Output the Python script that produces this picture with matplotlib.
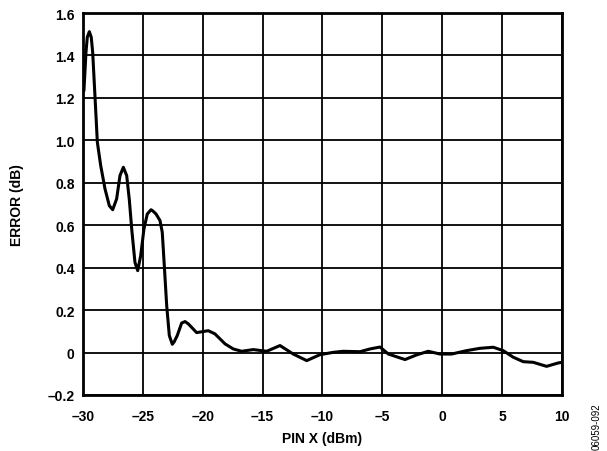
import matplotlib.pyplot as plt

plt.rcParams['font.family'] = ['Liberation Sans', 'DejaVu Sans']
plt.rcParams['font.weight'] = 'bold'

# error curve (PIN X in dBm, error in dB)
pin_x = [-29.92, -29.75, -29.64, -29.47, -29.31, -29.19, -29.0, -28.8, -28.52,
         -28.16, -27.8, -27.52, -27.19, -26.91, -26.63, -26.35, -26.13, -25.93,
         -25.66, -25.43, -25.18, -24.91, -24.63, -24.32, -24.16, -23.9, -23.57,
         -23.38, -23.21, -23.01, -22.79, -22.54, -22.38, -22.13, -21.76, -21.48,
         -21.2, -20.51, -19.54, -18.98, -18.14, -17.45, -16.75, -15.78, -14.66,
         -13.55, -12.44, -11.32, -10.21, -9.1, -8.27, -6.87, -6.03, -5.2, -4.5,
         -3.11, -2.14, -1.17, -0.19, 0.78, 2.03, 3.15, 4.26, 5.09, 5.93,
         6.76, 7.6, 8.71, 9.68, 10.0]
error_db = [1.234, 1.415, 1.486, 1.512, 1.486, 1.415, 1.21, 0.991, 0.881,
            0.771, 0.692, 0.673, 0.724, 0.834, 0.873, 0.834, 0.72, 0.582,
            0.425, 0.386, 0.457, 0.582, 0.653, 0.673, 0.667, 0.653, 0.622,
            0.567, 0.41, 0.221, 0.08, 0.039, 0.051, 0.08, 0.139, 0.146,
            0.135, 0.094, 0.103, 0.088, 0.041, 0.017, 0.006, 0.014, 0.006,
            0.033, -0.007, -0.038, -0.01, 0.001, 0.006, 0.004, 0.017, 0.026, -0.007,
            -0.033, -0.011, 0.006, -0.007, -0.007, 0.009, 0.02, 0.025, 0.009, -0.022,
            -0.043, -0.046, -0.065, -0.049, -0.046]

x_ticks = [-30, -25, -20, -15, -10, -5, 0, 5, 10]
y_ticks = [-0.2, 0, 0.2, 0.4, 0.6, 0.8, 1.0, 1.2, 1.4, 1.6]
y_labels = ['-0.2', '0', '0.2', '0.4', '0.6', '0.8', '1.0', '1.2', '1.4', '1.6']

fig = plt.figure(figsize=(6.07, 4.52), dpi=100)
ax = fig.add_axes([0.1367, 0.1239, 0.7892, 0.8451])

ax.plot(pin_x, error_db, color='black', linewidth=2.2,
        solid_joinstyle='round', solid_capstyle='round')

ax.set_xlim(-30, 10)
ax.set_ylim(-0.2, 1.6)
ax.set_xticks(x_ticks)
ax.set_xticklabels([str(t).replace('-', '\u2013') for t in x_ticks])
ax.set_yticks(y_ticks)
ax.set_yticklabels([s.replace('-', '\u2013') for s in y_labels])
ax.tick_params(axis='both', length=0, labelsize=10)
ax.tick_params(axis='x', pad=10)
ax.tick_params(axis='y', pad=6)
ax.grid(True, color='black', linewidth=1.3)
for sp in ax.spines.values():
    sp.set_linewidth(2)

ax.set_xlabel('PIN X (dBm)', fontsize=10, fontweight='bold', labelpad=6)
ax.set_ylabel('ERROR (dB)', fontsize=10, fontweight='bold', labelpad=17)

fig.text(0.983, 0.055, '06059-092', rotation=90, fontsize=7,
         fontweight='normal', ha='center', va='center')

fig.savefig('out.png', dpi=100)
